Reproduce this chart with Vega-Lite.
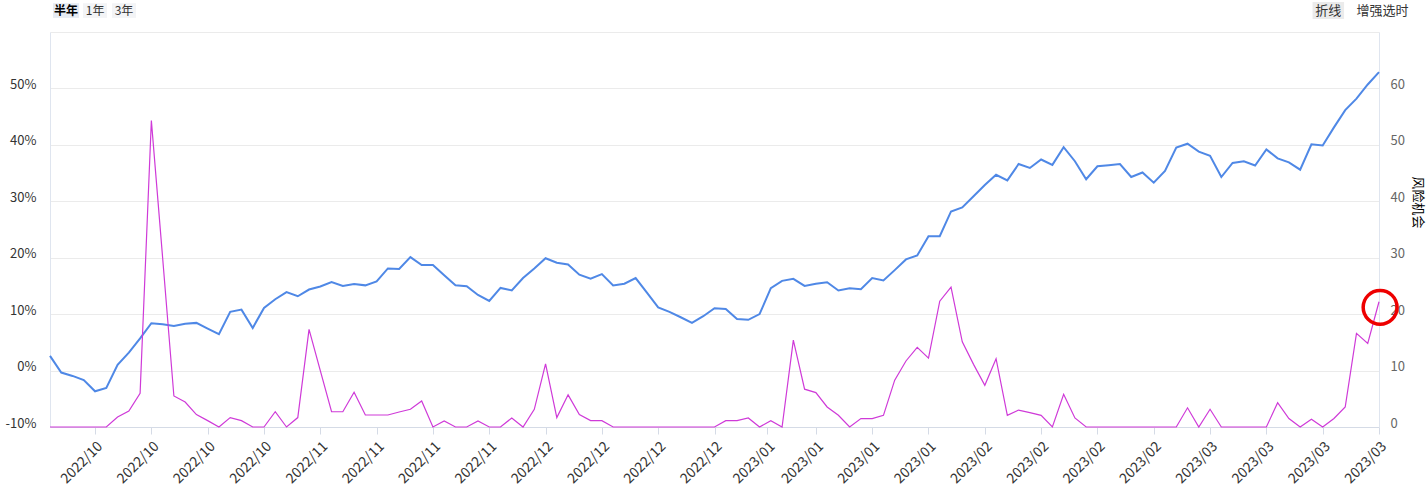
{
  "$schema": "https://vega.github.io/schema/vega-lite/v6.json",
  "width": 1329,
  "height": 395,
  "autosize": {"type": "none"},
  "padding": {"left": 50, "top": 32, "right": 48, "bottom": 73},
  "background": "white",
  "config": {"font": "Noto Sans CJK SC", "view": {"stroke": null}},
  "datasets": {
    "one": [{"n": 1}],
    "series": [
    {"i":0,"r":2.6,"m":0},{"i":1,"r":-0.35,"m":0},{"i":2,"r":-0.95,"m":0},{"i":3,"r":-1.67,"m":0},{"i":4,"r":-3.67,"m":0},
    {"i":5,"r":-3.08,"m":0},{"i":6,"r":1.0,"m":1.77},{"i":7,"r":3.19,"m":2.84},{"i":8,"r":5.7,"m":5.97},{"i":9,"r":8.39,"m":54.3},
    {"i":10,"r":8.2,"m":30},{"i":11,"r":7.9,"m":5.5},{"i":12,"r":8.3,"m":4.43},{"i":13,"r":8.45,"m":2.2},{"i":14,"r":7.44,"m":1.13},
    {"i":15,"r":6.44,"m":0},{"i":16,"r":10.4,"m":1.67},{"i":17,"r":10.8,"m":1.13},{"i":18,"r":7.56,"m":0},{"i":19,"r":11.1,"m":0},
    {"i":20,"r":12.64,"m":2.7},{"i":21,"r":13.9,"m":0},{"i":22,"r":13.17,"m":1.67},{"i":23,"r":14.36,"m":17.3},{"i":24,"r":14.9,"m":10},
    {"i":25,"r":15.7,"m":2.7},{"i":26,"r":15.0,"m":2.7},{"i":27,"r":15.36,"m":6.15},{"i":28,"r":15.1,"m":2.13},{"i":29,"r":15.8,"m":2.13},
    {"i":30,"r":18.1,"m":2.13},{"i":31,"r":18.0,"m":2.66},{"i":32,"r":20.1,"m":3.14},{"i":33,"r":18.7,"m":4.6},{"i":34,"r":18.7,"m":0},
    {"i":35,"r":16.9,"m":1.06},{"i":36,"r":15.1,"m":0},{"i":37,"r":14.95,"m":0},{"i":38,"r":13.4,"m":1.06},{"i":39,"r":12.35,"m":0},
    {"i":40,"r":14.65,"m":0},{"i":41,"r":14.2,"m":1.6},{"i":42,"r":16.4,"m":0},{"i":43,"r":18.1,"m":3.14},{"i":44,"r":19.9,"m":11.2},
    {"i":45,"r":19.1,"m":1.67},{"i":46,"r":18.8,"m":5.7},{"i":47,"r":17.0,"m":2.2},{"i":48,"r":16.3,"m":1.13},{"i":49,"r":17.1,"m":1.13},
    {"i":50,"r":15.1,"m":0},{"i":51,"r":15.4,"m":0},{"i":52,"r":16.4,"m":0},{"i":53,"r":13.8,"m":0},{"i":54,"r":11.2,"m":0},
    {"i":55,"r":10.4,"m":0},{"i":56,"r":9.45,"m":0},{"i":57,"r":8.44,"m":0},{"i":58,"r":9.63,"m":0},{"i":59,"r":11.05,"m":0},
    {"i":60,"r":10.9,"m":1.13},{"i":61,"r":9.15,"m":1.13},{"i":62,"r":9.0,"m":1.6},{"i":63,"r":10.0,"m":0},{"i":64,"r":14.6,"m":1.13},
    {"i":65,"r":15.9,"m":0},{"i":66,"r":16.25,"m":15.4},{"i":67,"r":15.0,"m":6.7},{"i":68,"r":15.4,"m":6.1},{"i":69,"r":15.65,"m":3.55},
    {"i":70,"r":14.2,"m":2.07},{"i":71,"r":14.6,"m":0},{"i":72,"r":14.4,"m":1.5},{"i":73,"r":16.4,"m":1.5},{"i":74,"r":15.96,"m":2.07},
    {"i":75,"r":17.8,"m":8.3},{"i":76,"r":19.7,"m":11.7},{"i":77,"r":20.4,"m":14.1},{"i":78,"r":23.8,"m":12.2},{"i":79,"r":23.8,"m":22.3},
    {"i":80,"r":28.2,"m":24.8},{"i":81,"r":28.9,"m":15.1},{"i":82,"r":30.9,"m":11.1},{"i":83,"r":32.9,"m":7.4},{"i":84,"r":34.7,"m":12.1},
    {"i":85,"r":33.7,"m":2.07},{"i":86,"r":36.6,"m":3.0},{"i":87,"r":35.9,"m":2.55},{"i":88,"r":37.4,"m":2.07},{"i":89,"r":36.45,"m":0},
    {"i":90,"r":39.6,"m":5.8},{"i":91,"r":37.1,"m":1.6},{"i":92,"r":33.9,"m":0},{"i":93,"r":36.2,"m":0},{"i":94,"r":36.4,"m":0},
    {"i":95,"r":36.6,"m":0},{"i":96,"r":34.3,"m":0},{"i":97,"r":35.1,"m":0},{"i":98,"r":33.3,"m":0},{"i":99,"r":35.4,"m":0},
    {"i":100,"r":39.5,"m":0},{"i":101,"r":40.2,"m":3.4},{"i":102,"r":38.8,"m":0},{"i":103,"r":38.05,"m":3.14},{"i":104,"r":34.3,"m":0},
    {"i":105,"r":36.8,"m":0},{"i":106,"r":37.1,"m":0},{"i":107,"r":36.35,"m":0},{"i":108,"r":39.2,"m":0},{"i":109,"r":37.6,"m":4.3},
    {"i":110,"r":36.9,"m":1.5},{"i":111,"r":35.6,"m":0},{"i":112,"r":40.1,"m":1.37},{"i":113,"r":39.9,"m":0},{"i":114,"r":43.1,"m":1.5},
    {"i":115,"r":46.15,"m":3.55},{"i":116,"r":48.2,"m":16.6},{"i":117,"r":50.7,"m":14.8},{"i":118,"r":52.9,"m":22.2}
    ]
  },
  "layer": [
    {
      "data": {"name": "series"},
      "mark": {"type": "line", "color": "#4f88e6", "strokeWidth": 2},
      "encoding": {
        "x": {
          "field": "i", "type": "quantitative",
          "scale": {"domain": [0, 118], "nice": false, "zero": false},
          "axis": {
            "title": null,
            "values": [4,9,14,19,24,29,34,39,44,49,54,59,63.7,68,73,78,83,88,93,98,103,108,113,118],
            "labelExpr": "datum.value < 22 ? '2022/10' : datum.value < 42 ? '2022/11' : datum.value < 61 ? '2022/12' : datum.value < 80 ? '2023/01' : datum.value < 100 ? '2023/02' : '2023/03'",
            "labelAngle": -45,
            "labelFontSize": 14,
            "labelColor": "#333333",
            "labelPadding": 5,
            "labelOverlap": false,
            "labelFlush": false,
            "tickColor": "#d5dbe6",
            "tickSize": 7,
            "domainColor": "#d5dbe6",
            "grid": false
          }
        },
        "y": {
          "field": "r", "type": "quantitative",
          "scale": {"domain": [-10, 60], "nice": false, "zero": false},
          "axis": {
            "title": null,
            "orient": "left",
            "values": [-10,0,10,20,30,40,50,60],
            "labelExpr": "datum.value == 60 ? '' : datum.value + '%'",
            "labelFontSize": 13,
            "labelColor": "#333333",
            "labelPadding": 14,
            "labelBaseline": "alphabetic",
            "ticks": false,
            "domainColor": "#dfe5ef",
            "grid": true,
            "gridColor": "#ebebeb"
          }
        }
      }
    },
    {
      "layer": [
        {
          "data": {"name": "series"},
          "mark": {"type": "line", "color": "#cf3ad8", "strokeWidth": 1.2},
          "encoding": {
            "x": {"field": "i", "type": "quantitative"},
            "y": {
              "field": "m", "type": "quantitative",
              "scale": {"domain": [0, 70], "nice": false, "zero": false},
              "axis": {
                "title": "风险机会",
                "orient": "right",
                "values": [0,10,20,30,40,50,60,70],
                "labelExpr": "datum.value == 70 ? '' : datum.value",
                "labelFontSize": 13,
                "labelColor": "#666666",
                "labelPadding": 11,
                "labelBaseline": "alphabetic",
                "ticks": false,
                "domainColor": "#dfe5ef",
                "grid": false,
                "titleAngle": 90,
                "titleFontSize": 13,
                "titleFontWeight": "normal",
                "titleColor": "#000000",
                "titleX": 38,
                "titleY": 170,
                "titleAlign": "center",
                "titleBaseline": "middle"
              }
            }
          }
        },
        {
          "data": {"name": "one"},
          "mark": {"type": "point", "shape": "circle", "filled": false, "stroke": "#ee0000", "strokeWidth": 3.5, "size": 1150, "opacity": 1},
          "encoding": {
            "x": {"datum": 118.1, "type": "quantitative"},
            "y": {"datum": 21.2, "type": "quantitative"}
          }
        },
        {
          "data": {"name": "one"},
          "mark": {"type": "rect", "color": "#e6ebf3"},
          "encoding": {
            "x": {"datum": 0.27, "type": "quantitative"}, "x2": {"datum": 2.58},
            "y": {"datum": 75.1, "type": "quantitative"}, "y2": {"datum": 72.5}
          }
        },
        {
          "data": {"name": "one"},
          "mark": {"type": "rect", "color": "#f3f4f6"},
          "encoding": {
            "x": {"datum": 2.93, "type": "quantitative"}, "x2": {"datum": 5.06},
            "y": {"datum": 75.1, "type": "quantitative"}, "y2": {"datum": 72.5}
          }
        },
        {
          "data": {"name": "one"},
          "mark": {"type": "rect", "color": "#f3f4f6"},
          "encoding": {
            "x": {"datum": 5.51, "type": "quantitative"}, "x2": {"datum": 7.64},
            "y": {"datum": 75.1, "type": "quantitative"}, "y2": {"datum": 72.5}
          }
        },
        {
          "data": {"name": "one"},
          "mark": {"type": "rect", "color": "#ebebeb"},
          "encoding": {
            "x": {"datum": 112.1, "type": "quantitative"}, "x2": {"datum": 114.9},
            "y": {"datum": 75.3, "type": "quantitative"}, "y2": {"datum": 72.3}
          }
        },
        {
          "data": {"name": "one"},
          "mark": {"type": "text", "text": "半年", "fontSize": 12, "fontWeight": "bold", "color": "#000000", "align": "center", "baseline": "middle"},
          "encoding": {"x": {"datum": 1.42, "type": "quantitative"}, "y": {"datum": 73.8, "type": "quantitative"}}
        },
        {
          "data": {"name": "one"},
          "mark": {"type": "text", "text": "1年", "fontSize": 12, "color": "#333333", "align": "center", "baseline": "middle"},
          "encoding": {"x": {"datum": 4.0, "type": "quantitative"}, "y": {"datum": 73.8, "type": "quantitative"}}
        },
        {
          "data": {"name": "one"},
          "mark": {"type": "text", "text": "3年", "fontSize": 12, "color": "#333333", "align": "center", "baseline": "middle"},
          "encoding": {"x": {"datum": 6.57, "type": "quantitative"}, "y": {"datum": 73.8, "type": "quantitative"}}
        },
        {
          "data": {"name": "one"},
          "mark": {"type": "text", "text": "折线", "fontSize": 13, "color": "#333333", "align": "center", "baseline": "middle"},
          "encoding": {"x": {"datum": 113.5, "type": "quantitative"}, "y": {"datum": 73.7, "type": "quantitative"}}
        },
        {
          "data": {"name": "one"},
          "mark": {"type": "text", "text": "增强选时", "fontSize": 13, "color": "#333333", "align": "center", "baseline": "middle"},
          "encoding": {"x": {"datum": 118.3, "type": "quantitative"}, "y": {"datum": 73.7, "type": "quantitative"}}
        }
      ]
    }
  ],
  "resolve": {"scale": {"y": "independent"}}
}
